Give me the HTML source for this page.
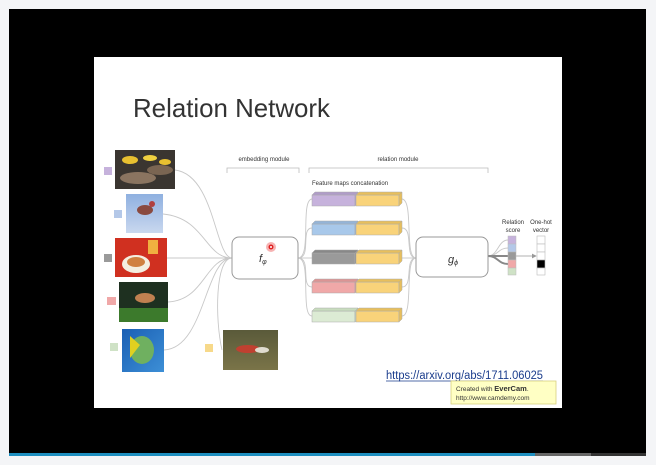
<!DOCTYPE html>
<html><head><style>
html,body{margin:0;padding:0;background:#f4f5f7;}
svg{display:block}
text{font-family:"Liberation Sans",sans-serif}
</style></head><body>
<svg width="656" height="465" viewBox="0 0 656 465" xmlns="http://www.w3.org/2000/svg">
<defs>
<linearGradient id="sky" x1="0" y1="0" x2="0" y2="1"><stop offset="0" stop-color="#8fb0e0"/><stop offset="1" stop-color="#c9d8ef"/></linearGradient>
<linearGradient id="sea" x1="0" y1="0" x2="1" y2="1"><stop offset="0" stop-color="#1a5fb4"/><stop offset="1" stop-color="#3d8fd6"/></linearGradient>
<linearGradient id="field" x1="0" y1="0" x2="0" y2="1"><stop offset="0" stop-color="#5a5a3a"/><stop offset="1" stop-color="#7a7448"/></linearGradient>
<marker id="ar" markerWidth="6" markerHeight="6" refX="5" refY="3" orient="auto"><path d="M0,0 L6,3 L0,6z" fill="#999"/></marker>
</defs>
<rect x="9" y="9" width="637" height="445" fill="#000"/>
<rect x="9" y="453" width="526" height="3" fill="#1e8fc0"/>
<rect x="535" y="453" width="56" height="3" fill="#666"/>
<rect x="591" y="453" width="55" height="3" fill="#333"/>
<rect x="94" y="57" width="468" height="351" fill="#fff"/>
<text x="133" y="117" font-size="26" fill="#333" textLength="197" lengthAdjust="spacingAndGlyphs">Relation Network</text>

<!-- curves -->
<g fill="none" stroke="#c8c8c8" stroke-width="0.9">
<path d="M175,170 C215,175 215,258 232,258"/>
<path d="M163,214 C205,218 205,258 232,258"/>
<path d="M167,258 L232,258"/>
<path d="M168,302 C205,300 205,258 232,258"/>
<path d="M164,350 C205,348 205,258 232,258"/>
<path d="M222,350 C215,320 215,258 232,258"/>
<path d="M298,258 C312,258 300,200 312,199"/>
<path d="M298,258 C312,258 300,228 312,228"/>
<path d="M298,258 L312,258"/>
<path d="M298,258 C312,258 300,287 312,287"/>
<path d="M298,258 C312,258 300,316 312,316"/>
<path d="M402,199 C414,200 404,258 416,258"/>
<path d="M402,228 C414,228 404,258 416,258"/>
<path d="M402,258 L416,258"/>
<path d="M402,287 C414,287 404,258 416,258"/>
<path d="M402,316 C414,316 404,258 416,258"/>
<path d="M488,256 C498,256 498,240 508,240"/>
<path d="M488,256 C498,256 498,248 508,248"/>
</g>
<g fill="none" stroke="#888" stroke-width="2">
<path d="M488,256 L508,256"/>
<path d="M488,256 C498,256 498,264 508,264"/>
</g>
<path d="M516,256 L536,256" stroke="#999" stroke-width="0.8" marker-end="url(#ar)"/>

<!-- images -->
<rect x="115" y="150" width="60" height="39" fill="#3a3530"/>
<ellipse cx="138" cy="178" rx="18" ry="6" fill="#8a7460"/>
<ellipse cx="160" cy="170" rx="13" ry="5" fill="#7a6552"/>
<ellipse cx="130" cy="160" rx="8" ry="4" fill="#e8c030"/>
<ellipse cx="150" cy="158" rx="7" ry="3" fill="#f0d040"/>
<ellipse cx="165" cy="162" rx="6" ry="3" fill="#e8c030"/>
<rect x="126" y="194" width="37" height="39" fill="url(#sky)"/>
<ellipse cx="145" cy="210" rx="8" ry="5" fill="#8a4a40"/>
<circle cx="152" cy="204" r="3" fill="#b04040"/>
<rect x="115" y="238" width="52" height="39" fill="#d03020"/>
<rect x="148" y="240" width="10" height="14" fill="#f0b040"/>
<ellipse cx="136" cy="264" rx="14" ry="9" fill="#f4eee0"/>
<ellipse cx="136" cy="262" rx="9" ry="5" fill="#d08040"/>
<rect x="119" y="282" width="49" height="40" fill="#1e3020"/>
<rect x="119" y="308" width="49" height="14" fill="#3c7a2c"/>
<ellipse cx="145" cy="298" rx="10" ry="5" fill="#c08050"/>
<rect x="122" y="329" width="42" height="43" fill="url(#sea)"/>
<ellipse cx="142" cy="350" rx="12" ry="14" fill="#6fb060"/>
<path d="M130,336 L140,345 L130,358z" fill="#e0d020"/>
<rect x="223" y="330" width="55" height="40" fill="url(#field)"/>
<ellipse cx="248" cy="349" rx="12" ry="4" fill="#c04030"/>
<ellipse cx="262" cy="350" rx="7" ry="3" fill="#e0dcd0"/>

<!-- small squares -->
<rect x="104" y="167" width="8" height="8" fill="#c6b2dc"/>
<rect x="114" y="210" width="8" height="8" fill="#b4c8e8"/>
<rect x="104" y="254" width="8" height="8" fill="#9a9a9a"/>
<rect x="107" y="297" width="9" height="8" fill="#f0a8a8"/>
<rect x="110" y="343" width="8" height="8" fill="#cfe2c6"/>
<rect x="205" y="344" width="8" height="8" fill="#f7d98a"/>

<!-- labels and brackets -->
<text x="264" y="161" font-size="6" fill="#333" text-anchor="middle">embedding module</text>
<path d="M227,173 V168 H299 V173" fill="none" stroke="#bbb" stroke-width="0.8"/>
<text x="398" y="161" font-size="6" fill="#333" text-anchor="middle">relation module</text>
<path d="M309,173 V168 H488 V173" fill="none" stroke="#bbb" stroke-width="0.8"/>
<text x="312" y="185" font-size="6" fill="#333">Feature maps concatenation</text>

<!-- f box -->
<rect x="232" y="237" width="66" height="42" rx="7" fill="#fff" stroke="#999" stroke-width="1"/>
<text x="259" y="262" font-size="11" font-style="italic" fill="#333" font-family="Liberation Serif">f<tspan font-size="7" dy="2">φ</tspan></text>
<circle cx="271" cy="247" r="5" fill="#f08080" opacity="0.6"/>
<circle cx="271" cy="247" r="2.5" fill="#e02020"/>
<circle cx="271" cy="247" r="1" fill="#fff"/>

<!-- feature blocks -->
<g stroke="#aaa" stroke-width="0.5">
<rect x="312" y="195" width="43" height="11" fill="#c6b2dc"/><path d="M312,195 l3,-3 h43 l-3,3z M355,195 l3,-3 v11 l-3,3z" fill="#b09cc8"/>
<rect x="356" y="195" width="43" height="11" fill="#f9d37a"/><path d="M356,195 l3,-3 h43 l-3,3z M399,195 l3,-3 v11 l-3,3z" fill="#e8bf5c"/>
<rect x="312" y="224" width="43" height="11" fill="#a8c8ea"/><path d="M312,224 l3,-3 h43 l-3,3z M355,224 l3,-3 v11 l-3,3z" fill="#94b4d8"/>
<rect x="356" y="224" width="43" height="11" fill="#f9d37a"/><path d="M356,224 l3,-3 h43 l-3,3z M399,224 l3,-3 v11 l-3,3z" fill="#e8bf5c"/>
<rect x="312" y="253" width="43" height="11" fill="#9a9a9a"/><path d="M312,253 l3,-3 h43 l-3,3z M355,253 l3,-3 v11 l-3,3z" fill="#888"/>
<rect x="356" y="253" width="43" height="11" fill="#f9d37a"/><path d="M356,253 l3,-3 h43 l-3,3z M399,253 l3,-3 v11 l-3,3z" fill="#e8bf5c"/>
<rect x="312" y="282" width="43" height="11" fill="#f0a8a8"/><path d="M312,282 l3,-3 h43 l-3,3z M355,282 l3,-3 v11 l-3,3z" fill="#dc9494"/>
<rect x="356" y="282" width="43" height="11" fill="#f9d37a"/><path d="M356,282 l3,-3 h43 l-3,3z M399,282 l3,-3 v11 l-3,3z" fill="#e8bf5c"/>
<rect x="312" y="311" width="43" height="11" fill="#dcebd4"/><path d="M312,311 l3,-3 h43 l-3,3z M355,311 l3,-3 v11 l-3,3z" fill="#c8dcbe"/>
<rect x="356" y="311" width="43" height="11" fill="#f9d37a"/><path d="M356,311 l3,-3 h43 l-3,3z M399,311 l3,-3 v11 l-3,3z" fill="#e8bf5c"/>
</g>

<!-- g box -->
<rect x="416" y="237" width="72" height="40" rx="7" fill="#fff" stroke="#999" stroke-width="1"/>
<text x="448" y="263" font-size="11" font-style="italic" fill="#333" font-family="Liberation Serif">g<tspan font-size="7" dy="2">ϕ</tspan></text>

<!-- relation score -->
<text x="513" y="224" font-size="6" fill="#333" text-anchor="middle">Relation</text>
<text x="513" y="232" font-size="6" fill="#333" text-anchor="middle">score</text>
<g stroke="#bbb" stroke-width="0.5">
<rect x="508" y="236" width="8" height="8" fill="#c6b2dc"/>
<rect x="508" y="244" width="8" height="8" fill="#b4c8e8"/>
<rect x="508" y="252" width="8" height="8" fill="#9a9a9a"/>
<rect x="508" y="260" width="8" height="8" fill="#f0a8a8"/>
<rect x="508" y="268" width="8" height="7" fill="#cfe2c6"/>
</g>
<text x="541" y="224" font-size="6" fill="#333" text-anchor="middle">One-hot</text>
<text x="541" y="232" font-size="6" fill="#333" text-anchor="middle">vector</text>
<g stroke="#bbb" stroke-width="0.6" fill="#fff">
<rect x="537" y="236" width="8" height="8"/>
<rect x="537" y="244" width="8" height="8"/>
<rect x="537" y="252" width="8" height="8"/>
<rect x="537" y="260" width="8" height="8" fill="#000"/>
<rect x="537" y="268" width="8" height="7"/>
</g>

<!-- url -->
<text x="386" y="379" font-size="11.5" fill="#1a3c8c" textLength="157" lengthAdjust="spacingAndGlyphs">https://arxiv.org/abs/1711.06025</text>
<line x1="386" y1="381" x2="543" y2="381" stroke="#1a3c8c" stroke-width="0.8"/>
<rect x="451" y="381" width="105" height="23" fill="#ffffc4" stroke="#d8cf80" stroke-width="0.8"/>
<text x="456" y="391" font-size="6.5" fill="#333" font-family="Liberation Mono">Created with <tspan font-weight="bold" font-family="Liberation Sans" font-size="7.5">EverCam</tspan>.</text>
<text x="456" y="400" font-size="6.5" fill="#333" font-family="Liberation Mono">http://www.camdemy.com</text>
</svg>
</body></html>
